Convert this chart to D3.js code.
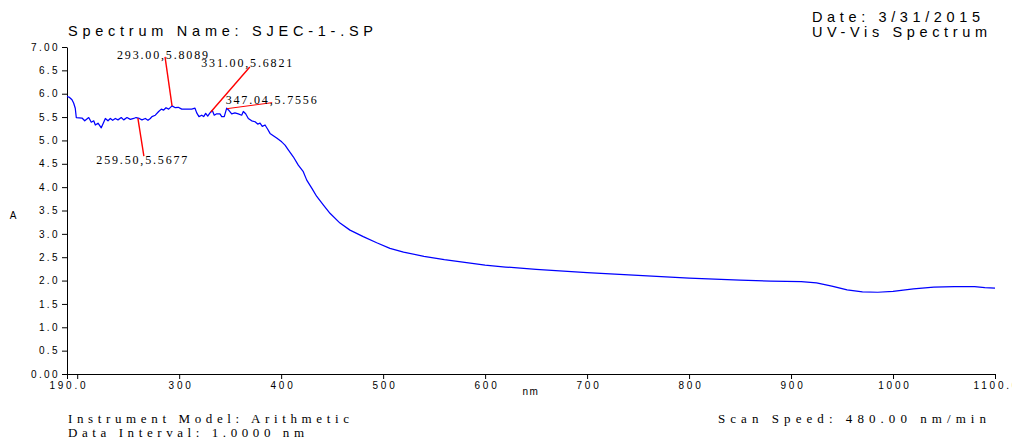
<!DOCTYPE html>
<html>
<head>
<meta charset="utf-8">
<script src="https://cdn.jsdelivr.net/npm/d3@7"></script>
<style>
  html, body { margin: 0; padding: 0; background: #fff; }
  svg { display: block; }
</style>
</head>
<body>
<svg id="chart" width="1012" height="440"></svg>
<script>
// ---- data ----
const wavelengths = [
  190, 192.5, 194.9, 196.5, 198.1, 199.1, 204.7, 207.4, 211.3, 213.8, 216.2, 217.8, 220.4, 223.6,
  226, 227.6, 230.2, 232.5, 234.8, 237.4, 240, 243.2, 245.6, 248.8, 252.1, 255.4, 257.7, 260.9,
  263.5, 266.8, 269.4, 271.7, 273.3, 276.6, 279.9, 282.5, 284.8, 287.1, 289.7, 293, 296.2, 299.1,
  302.5, 312.3, 315.5, 317.2, 319.4, 322.1, 324, 326, 328, 330.2, 332.5, 334.4, 336.8, 340, 341.7,
  344.2, 346.6, 348.9, 351.5, 354.7, 358, 361.3, 362.9, 365.2, 367.8, 371.1, 374.4, 377, 379.3,
  381.5, 384.2, 386.8, 389.1, 392.3, 395.6, 400.5, 403.8, 407, 411.9, 416.8, 421.7, 425.1, 430,
  434.9, 441.3, 447.9, 457.7, 467.5, 480.5, 493.7, 506.7, 520, 540, 560, 580, 600, 620, 650, 700,
  750, 800, 850, 880, 910, 925, 940, 955, 970, 985, 1000, 1020, 1040, 1060, 1080, 1090, 1100
];
const absorbance = [
  5.94, 5.92, 5.87, 5.80, 5.69, 5.49, 5.48, 5.42, 5.49, 5.39, 5.42, 5.33, 5.37, 5.27,
  5.39, 5.47, 5.42, 5.47, 5.43, 5.47, 5.44, 5.49, 5.44, 5.49, 5.45, 5.47, 5.49, 5.47,
  5.44, 5.47, 5.43, 5.47, 5.51, 5.54, 5.62, 5.67, 5.65, 5.70, 5.67, 5.74, 5.70, 5.71,
  5.67, 5.67, 5.69, 5.59, 5.51, 5.54, 5.51, 5.58, 5.52, 5.59, 5.64, 5.54, 5.57, 5.57, 5.51,
  5.51, 5.69, 5.64, 5.57, 5.59, 5.57, 5.54, 5.62, 5.57, 5.47, 5.42, 5.40, 5.35, 5.37,
  5.30, 5.33, 5.24, 5.15, 5.10, 5.05, 4.97, 4.90, 4.80, 4.65, 4.47, 4.33, 4.15, 3.98,
  3.80, 3.62, 3.44, 3.23, 3.08, 2.94, 2.81, 2.69, 2.61, 2.52, 2.45, 2.39, 2.33, 2.29, 2.24, 2.17,
  2.11, 2.05, 2.01, 1.99, 1.98, 1.95, 1.88, 1.80, 1.76, 1.75, 1.77, 1.82, 1.86, 1.87, 1.87, 1.85, 1.84
];

const xTickValues = [190, 200, 300, 400, 500, 600, 700, 800, 900, 1000, 1100];
const xTickLabels = ["190.0", "", "300", "400", "500", "600", "700", "800", "900", "1000", "1100.0"];
const yTickValues = [0, 0.5, 1, 1.5, 2, 2.5, 3, 3.5, 4, 4.5, 5, 5.5, 6, 6.5, 7];
const yTickLabels = ["0.00", "0.5", "1.0", "1.5", "2.0", "2.5", "3.0", "3.5", "4.0", "4.5", "5.0", "5.5", "6.0", "6.5", "7.00"];

const peakNm = [259.50, 293.00, 331.00, 347.04];
const peakValue = [5.5677, 5.8089, 5.6821, 5.7556];

const titleText = "Spectrum Name: SJEC-1-.SP";
const dateText = "Date: 3/31/2015";
const typeText = "UV-Vis Spectrum";
const footerLeft = ["Instrument Model: Arithmetic", "Data Interval: 1.0000 nm"];
const footerRight = "Scan Speed: 480.00 nm/min";

// ---- layout ----
const svg = d3.select("#chart");
const x = d3.scaleLinear().domain([190, 1100]).range([67, 995]);
const y = d3.scaleLinear().domain([0, 7]).range([374, 47]);
const SANS = "'Liberation Sans', Arial, sans-serif";
const SERIF = "'Liberation Serif', 'Times New Roman', serif";

// header
svg.append("text").attr("x", 68).attr("y", 36).attr("font-family", SANS).attr("font-size", 14.5)
  .attr("textLength", 305).attr("lengthAdjust", "spacing").text(titleText);
svg.append("text").attr("x", 812).attr("y", 22).attr("font-family", SANS).attr("font-size", 14.5)
  .attr("textLength", 168).attr("lengthAdjust", "spacing").text(dateText);
svg.append("text").attr("x", 812).attr("y", 37).attr("font-family", SANS).attr("font-size", 14.5)
  .attr("textLength", 175).attr("lengthAdjust", "spacing").text(typeText);

// axes
const xAxis = d3.axisBottom(x).tickValues(xTickValues)
  .tickFormat((d, i) => xTickLabels[i]).tickSize(5).tickSizeOuter(0).tickPadding(3);
const gx = svg.append("g").attr("transform", `translate(0,${y(0)})`).call(xAxis);
const yAxis = d3.axisLeft(y).tickValues(yTickValues)
  .tickFormat((d, i) => yTickLabels[i]).tickSize(5).tickSizeOuter(0).tickPadding(3);
const gy = svg.append("g").attr("transform", `translate(${x(190)},0)`).call(yAxis);

[gx, gy].forEach(g => {
  g.selectAll("path, line").attr("stroke", "#000").attr("stroke-width", 1);
  g.selectAll("text").attr("font-family", SANS).attr("font-size", 10).attr("fill", "#000");
});
gx.selectAll("text").style("letter-spacing", "2.8px").attr("dx", "1.4px");
gy.selectAll("text").style("letter-spacing", "2.4px").attr("dx", "0px").attr("x", -7);

// axis titles
svg.append("text").attr("x", 13).attr("y", 219).attr("text-anchor", "middle")
  .attr("font-family", SANS).attr("font-size", 10).text("A");
svg.append("text").attr("x", 531).attr("y", 395).attr("text-anchor", "middle")
  .attr("font-family", SANS).attr("font-size", 10).style("letter-spacing", "1.5px").text("nm");

// spectrum
const pts = wavelengths.map((w, i) => [w, absorbance[i]]);
const line = d3.line().x(d => x(d[0])).y(d => y(d[1]));
svg.append("path").datum(pts).attr("d", line)
  .attr("fill", "none").attr("stroke", "#0000ff").attr("stroke-width", 1.25)
  .attr("stroke-linejoin", "round");

// annotations
function curveAt(w) {
  const i = d3.bisector(d => d).left(wavelengths, w);
  if (i <= 0) return absorbance[0];
  const w0 = wavelengths[i - 1], w1 = wavelengths[i];
  const t = (w - w0) / (w1 - w0);
  return absorbance[i - 1] + t * (absorbance[i] - absorbance[i - 1]);
}
const annLayout = [
  { ex: 6, ey: 38, lx: -2, ly: 8 },
  { ex: -7, ey: -49, lx: -2.5, ly: 2 },
  { ex: 39, ey: -45, lx: -3, ly: -0.5 },
  { ex: 45, ey: -6, lx: -1, ly: 1.5 }
];
peakNm.forEach((w, i) => {
  const px = x(w), py = y(curveAt(w));
  const L = annLayout[i];
  const ex = px + L.ex, ey = py + L.ey;
  svg.append("line").attr("x1", px).attr("y1", py).attr("x2", ex).attr("y2", ey)
    .attr("stroke", "#ff0000").attr("stroke-width", i === 3 ? 1 : 1.4);
  svg.append("text").attr("x", ex + L.lx).attr("y", ey + L.ly).attr("text-anchor", "middle")
    .attr("font-family", SERIF).attr("font-size", 12).attr("fill", "#000")
    .attr("textLength", 91).attr("lengthAdjust", "spacing")
    .text(w.toFixed(2) + "," + peakValue[i].toFixed(4));
});

// footer
footerLeft.forEach((t, i) => {
  svg.append("text").attr("x", 68).attr("y", 423 + i * 14).attr("font-family", SERIF)
    .attr("font-size", 13).attr("textLength", i === 0 ? 281 : 236).attr("lengthAdjust", "spacing").text(t);
});
svg.append("text").attr("x", 718).attr("y", 423).attr("font-family", SERIF)
  .attr("font-size", 13).attr("textLength", 268).attr("lengthAdjust", "spacing").text(footerRight);
</script>
</body>
</html>
